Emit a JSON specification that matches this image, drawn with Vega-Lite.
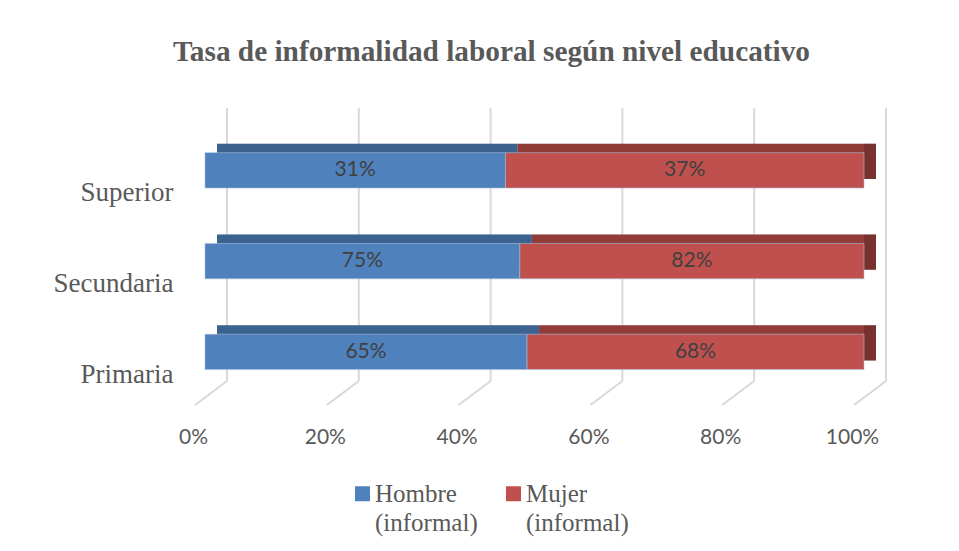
{
  "$schema": "https://vega.github.io/schema/vega-lite/v6.json",
  "width": 659,
  "height": 297,
  "autosize": {"type": "none"},
  "padding": {"left": 205, "top": 108, "right": 95, "bottom": 146},
  "background": "white",
  "config": {
    "view": {"stroke": null},
    "style": {"guide-label": {"lineHeight": 29, "dy": 8}}
  },
  "title": {
    "text": "Tasa de informalidad laboral según nivel educativo",
    "font": "Liberation Serif",
    "fontSize": 29.3,
    "fontWeight": "bold",
    "color": "#595959",
    "anchor": "middle",
    "dx": -43,
    "offset": 40
  },
  "datasets": {
    "tasas": [
      {"nivel": "Superior", "sexo": "Hombre (informal)", "valor": 31},
      {"nivel": "Superior", "sexo": "Mujer (informal)", "valor": 37},
      {"nivel": "Secundaria", "sexo": "Hombre (informal)", "valor": 75},
      {"nivel": "Secundaria", "sexo": "Mujer (informal)", "valor": 82},
      {"nivel": "Primaria", "sexo": "Hombre (informal)", "valor": 65},
      {"nivel": "Primaria", "sexo": "Mujer (informal)", "valor": 68}
    ],
    "marcas": [{"v": 0}, {"v": 0.2}, {"v": 0.4}, {"v": 0.6}, {"v": 0.8}, {"v": 1}]
  },
  "layer": [
    {
      "data": {"name": "marcas"},
      "mark": {"type": "rule", "color": "#d9d9d9", "strokeWidth": 2, "xOffset": 22, "y": 0, "y2": {"expr": "height - 24"}},
      "encoding": {
        "x": {"field": "v", "type": "quantitative", "scale": {"domain": [0, 1], "nice": false},
          "axis": {"title": null, "values": [0, 0.2, 0.4, 0.6, 0.8, 1], "format": ".0%", "domain": false, "ticks": false, "grid": false, "labelFont": "Lato", "labelFontSize": 21, "labelColor": "#595959", "labelPadding": 13, "labelOffset": -12, "labelFlush": false}}
      }
    },
    {
      "data": {"name": "marcas"},
      "mark": {"type": "rule", "color": "#d9d9d9", "strokeWidth": 2, "xOffset": 22, "x2Offset": -10},
      "encoding": {
        "x": {"field": "v", "type": "quantitative"},
        "x2": {"field": "v"},
        "y": {"value": {"expr": "height - 24"}},
        "y2": {"value": {"expr": "height"}}
      }
    },
    {
      "data": {"name": "tasas"},
      "transform": [
        {"stack": "valor", "groupby": ["nivel"], "sort": [{"field": "sexo"}], "as": ["x0", "x1"], "offset": "normalize"},
        {"calculate": "(datum.x0 + datum.x1) / 2", "as": "xm"},
        {"calculate": "datum.valor + '%'", "as": "etiqueta"}
      ],
      "layer": [
        {
          "mark": {"type": "bar", "xOffset": 12, "x2Offset": 12, "yOffset": -9},
          "encoding": {
            "y": {"field": "nivel", "type": "nominal", "sort": ["Superior", "Secundaria", "Primaria"],
              "scale": {"range": [17, 289.25], "paddingInner": 0.61, "paddingOuter": 0.305},
              "axis": {"title": null, "domain": false, "ticks": false, "labelFont": "Liberation Serif", "labelFontSize": 27, "labelColor": "#595959", "labelPadding": 32, "labelOffset": 15}},
            "x": {"field": "x0", "type": "quantitative"},
            "x2": {"field": "x1"},
            "color": {"field": "sexo", "type": "nominal",
              "scale": {"domain": ["Hombre (informal)", "Mujer (informal)"], "range": ["#4f81bd", "#c0504d"]},
              "legend": {"title": null, "orient": "none", "legendX": 145, "legendY": 373, "direction": "horizontal",
                "symbolType": "square", "symbolSize": 225, "symbolStrokeWidth": 0, "symbolOpacity": 1, "labelFont": "Liberation Serif", "labelFontSize": 25, "labelColor": "#595959",
                "labelLimit": 300, "labelOffset": 0, "columnPadding": 23, "labelBaseline": "alphabetic",
                "labelExpr": "split(datum.label, ' ')"}}
          }
        },
        {
          "mark": {"type": "bar", "xOffset": 12, "x2Offset": 12, "yOffset": -9, "color": "black", "opacity": 0.24},
          "encoding": {
            "y": {"field": "nivel", "type": "nominal", "sort": ["Superior", "Secundaria", "Primaria"]},
            "x": {"field": "x0", "type": "quantitative"},
            "x2": {"field": "x1"}
          }
        },
        {
          "transform": [{"filter": "datum.x1 >= 0.999"}],
          "mark": {"type": "bar", "xOffset": 0, "x2Offset": 12, "yOffset": -9, "color": "black", "opacity": 0.17},
          "encoding": {
            "y": {"field": "nivel", "type": "nominal", "sort": ["Superior", "Secundaria", "Primaria"]},
            "x": {"field": "x1", "type": "quantitative"},
            "x2": {"field": "x1"}
          }
        },
        {
          "mark": {"type": "bar", "stroke": "#a9bfdd", "strokeWidth": 0.6},
          "encoding": {
            "y": {"field": "nivel", "type": "nominal", "sort": ["Superior", "Secundaria", "Primaria"]},
            "x": {"field": "x0", "type": "quantitative"},
            "x2": {"field": "x1"},
            "color": {"field": "sexo", "type": "nominal"}
          }
        },
        {
          "mark": {"type": "text", "font": "Lato", "fontSize": 21, "color": "#404040"},
          "encoding": {
            "y": {"field": "nivel", "type": "nominal", "sort": ["Superior", "Secundaria", "Primaria"]},
            "x": {"field": "xm", "type": "quantitative"},
            "text": {"field": "etiqueta", "type": "nominal"}
          }
        }
      ]
    }
  ]
}
